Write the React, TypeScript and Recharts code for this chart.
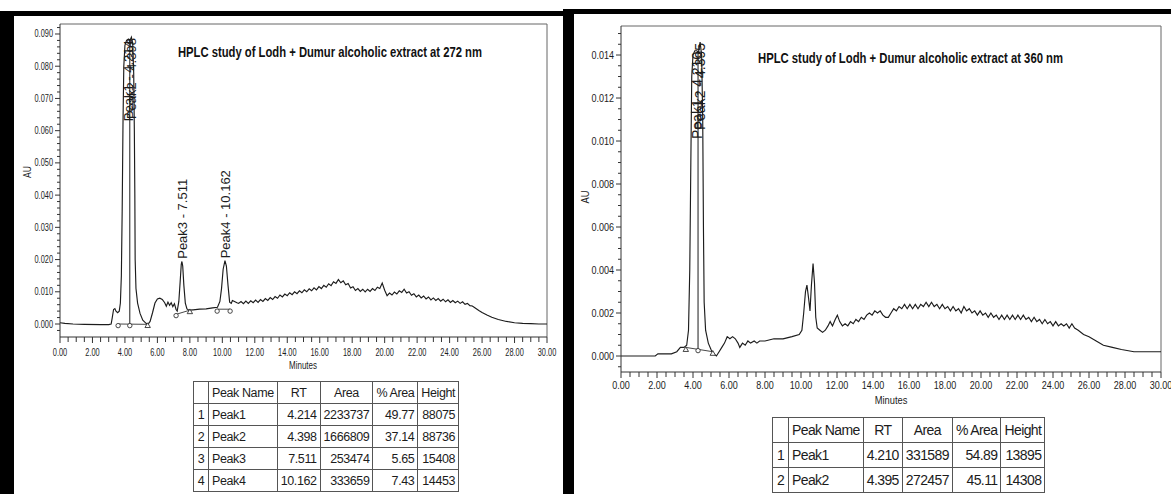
import React from 'react';
import { ComposedChart, Line, Scatter, XAxis, YAxis, ReferenceLine } from 'recharts';

// 272 nm run: [minutes, AU]
const trace272: [number, number][] = [
  [0, 0.0004], [0.3, 0.0002], [0.8, 0.0], [1.5, -0.0001], [2.5, -0.0002], [3.0, -0.0002],
  [3.15, 0.0], [3.22, 0.002], [3.3, 0.0045], [3.38, 0.0048], [3.45, 0.004], [3.55, 0.0035],
  [3.65, 0.004], [3.72, 0.0065], [3.78, 0.015], [3.83, 0.035], [3.88, 0.062], [3.93, 0.08],
  [4.0, 0.0865], [4.1, 0.088], [4.214, 0.0884], [4.3, 0.0878], [4.398, 0.089], [4.48, 0.087],
  [4.54, 0.078], [4.58, 0.06], [4.61, 0.04], [4.63, 0.02], [4.68, 0.011], [4.78, 0.0065],
  [4.93, 0.0033], [5.1, 0.0012], [5.3, 0.0002], [5.42, -0.0001], [5.55, 0.0008], [5.7, 0.0035],
  [5.85, 0.0065], [6.0, 0.0078], [6.15, 0.008], [6.3, 0.0076], [6.45, 0.0066], [6.55, 0.0055],
  [6.65, 0.0068], [6.75, 0.0058], [6.85, 0.0066], [6.95, 0.0054], [7.05, 0.0063], [7.15, 0.0045],
  [7.22, 0.004], [7.32, 0.007], [7.4, 0.013], [7.47, 0.0185], [7.51, 0.0194], [7.56, 0.018],
  [7.63, 0.012], [7.72, 0.0065], [7.82, 0.0047], [7.95, 0.0043], [8.2, 0.0044], [8.6, 0.0046],
  [9.0, 0.0047], [9.4, 0.005], [9.7, 0.0052], [9.85, 0.007], [9.95, 0.011], [10.05, 0.017],
  [10.162, 0.0197], [10.25, 0.018], [10.35, 0.012], [10.45, 0.0068], [10.55, 0.0064], [10.62, 0.0073],
  [10.75, 0.007], [10.9, 0.0066],
  [11.0, 0.0064], [11.15, 0.007], [11.3, 0.0063], [11.45, 0.0071], [11.6, 0.0064], [11.75, 0.0072],
  [11.9, 0.0066], [12.05, 0.0074], [12.2, 0.0067], [12.35, 0.0076], [12.5, 0.007], [12.65, 0.0079],
  [12.8, 0.0073], [12.95, 0.0082], [13.1, 0.0076], [13.25, 0.0085], [13.4, 0.008], [13.55, 0.009],
  [13.7, 0.0084], [13.85, 0.0093], [14.0, 0.0088], [14.15, 0.0097], [14.3, 0.0091], [14.45, 0.01],
  [14.6, 0.0094], [14.75, 0.0103], [14.9, 0.0097], [15.05, 0.0106], [15.2, 0.01], [15.35, 0.0109],
  [15.5, 0.0103], [15.65, 0.0112], [15.8, 0.0106], [15.95, 0.0116], [16.1, 0.011], [16.25, 0.012],
  [16.4, 0.0114], [16.55, 0.0125], [16.7, 0.0119], [16.85, 0.0131], [17.0, 0.0126], [17.15, 0.0138],
  [17.3, 0.0128], [17.45, 0.0134], [17.6, 0.0122], [17.75, 0.0126], [17.9, 0.0112], [18.05, 0.0116],
  [18.2, 0.0104], [18.35, 0.011], [18.5, 0.0101], [18.65, 0.0108], [18.8, 0.01], [18.95, 0.0108],
  [19.1, 0.0101], [19.25, 0.011], [19.4, 0.0104], [19.55, 0.0114], [19.7, 0.011], [19.85, 0.0127],
  [20.0, 0.0105], [20.15, 0.0088], [20.3, 0.0096], [20.45, 0.009], [20.6, 0.0099], [20.75, 0.0093],
  [20.9, 0.0103], [21.05, 0.0098], [21.2, 0.0108], [21.35, 0.0096], [21.5, 0.01], [21.65, 0.0089],
  [21.8, 0.0094], [21.95, 0.0084], [22.1, 0.009], [22.25, 0.0081], [22.4, 0.0087], [22.55, 0.0078],
  [22.7, 0.0084], [22.85, 0.0075], [23.0, 0.0081], [23.15, 0.0073], [23.3, 0.0079], [23.45, 0.0071],
  [23.6, 0.0077], [23.75, 0.0069], [23.9, 0.0075], [24.05, 0.0067], [24.2, 0.0073], [24.35, 0.0066],
  [24.5, 0.0071], [24.65, 0.0064], [24.8, 0.0069], [24.95, 0.0061], [25.1, 0.0064], [25.25, 0.0057],
  [25.4, 0.0056], [25.6, 0.0049], [25.8, 0.0042], [26.0, 0.0036], [26.3, 0.0028], [26.6, 0.0021],
  [27.0, 0.0014], [27.5, 0.0008], [28.0, 0.0004], [28.5, 0.0002], [29.0, 0.0001], [29.5, 0.0], [30.0, 0.0],
];

const peakNames272 = ['Peak1', 'Peak2', 'Peak3', 'Peak4'];
const peakRT272 = [4.214, 4.398, 7.511, 10.162];
const peakArea272 = [2233737, 1666809, 253474, 333659];
const peakPctArea272 = [49.77, 37.14, 5.65, 7.43];
const peakHeight272 = [88075, 88736, 15408, 14453];
const peakBase272 = [0.0003, 0.0003, 0.0039, 0.005];
const markT272 = [3.58, 4.3, 5.4, 7.15, 8.0, 9.68, 10.48];
const markV272 = [-0.0005, -0.0005, -0.0005, 0.0026, 0.0038, 0.004, 0.004];
const markKind272 = ['o', 'o', 't', 'o', 't', 'o', 'o'];
const baseSeg272: [number, number, number, number][] = [
  [3.58, 0.0, 5.4, -0.0001],
  [7.15, 0.003, 8.0, 0.0043],
  [9.68, 0.0046, 10.48, 0.0046],
];
const drop272: [number, number, number] = [4.3, 0.0, 0.0884];

// 360 nm run: [minutes, AU]
const trace360: [number, number][] = [
  [0, 0.0], [1.0, 0.0], [1.9, 0.0], [2.05, 0.0001], [2.8, 0.0001], [3.1, 0.0002], [3.3, 0.0004],
  [3.5, 0.0004], [3.65, 0.0005], [3.75, 0.0012], [3.82, 0.004], [3.88, 0.009], [3.93, 0.013],
  [4.0, 0.014], [4.1, 0.0142], [4.21, 0.0142], [4.3, 0.0141], [4.395, 0.0146], [4.48, 0.014],
  [4.54, 0.011], [4.58, 0.006], [4.62, 0.0025], [4.7, 0.0012], [4.85, 0.0006], [5.0, 0.0003],
  [5.15, 0.0001], [5.3, 0.0], [5.45, 0.0002], [5.6, 0.0004], [5.75, 0.0006], [5.9, 0.0009],
  [6.05, 0.0008], [6.2, 0.0009], [6.35, 0.0008], [6.5, 0.0006], [6.6, 0.0004], [6.75, 0.0006],
  [6.9, 0.0005], [7.05, 0.0007], [7.2, 0.0006], [7.4, 0.0007], [7.55, 0.0006], [7.7, 0.0007],
  [8.0, 0.0007], [8.5, 0.0008], [9.0, 0.0008], [9.5, 0.0009], [9.9, 0.001], [10.05, 0.0012],
  [10.15, 0.002], [10.25, 0.003], [10.33, 0.0033], [10.42, 0.0027], [10.5, 0.0021], [10.58, 0.0033],
  [10.67, 0.0043], [10.75, 0.0034], [10.82, 0.0018], [10.9, 0.0013], [11.05, 0.0012], [11.2, 0.0011],
  [11.35, 0.0012], [11.5, 0.0014], [11.62, 0.0016], [11.75, 0.0014], [11.9, 0.0017], [12.02, 0.0019],
  [12.15, 0.0016], [12.3, 0.0014], [12.45, 0.0015], [12.6, 0.0014], [12.75, 0.0016], [12.9, 0.0015],
  [13.05, 0.0017], [13.2, 0.0016], [13.35, 0.0018], [13.5, 0.0017], [13.65, 0.0019], [13.8, 0.002],
  [13.95, 0.0019], [14.1, 0.0021], [14.25, 0.002], [14.4, 0.0021], [14.55, 0.0019], [14.7, 0.0018],
  [14.85, 0.0018],
  [15.0, 0.002], [15.15, 0.0022], [15.3, 0.0021], [15.45, 0.0023], [15.6, 0.0022], [15.75, 0.0024],
  [15.9, 0.0022], [16.05, 0.0024], [16.2, 0.0022], [16.35, 0.0024], [16.5, 0.0022], [16.65, 0.0024],
  [16.8, 0.0023], [16.95, 0.0025], [17.1, 0.0023], [17.25, 0.0025], [17.4, 0.0023], [17.55, 0.0024],
  [17.7, 0.0022], [17.85, 0.0024], [18.0, 0.0022], [18.15, 0.0023], [18.3, 0.0021], [18.45, 0.0023],
  [18.6, 0.0021], [18.75, 0.0022], [18.9, 0.002], [19.05, 0.0023], [19.2, 0.0021], [19.35, 0.0022],
  [19.5, 0.002], [19.65, 0.0021], [19.8, 0.0019], [19.95, 0.0021], [20.1, 0.0019], [20.25, 0.002],
  [20.4, 0.0018], [20.55, 0.002], [20.7, 0.0018], [20.85, 0.0019], [21.0, 0.0017], [21.15, 0.0019],
  [21.3, 0.0017], [21.45, 0.0019], [21.6, 0.0017], [21.75, 0.0019], [21.9, 0.0017], [22.05, 0.0019],
  [22.2, 0.0017], [22.35, 0.0019], [22.5, 0.0017], [22.65, 0.0018], [22.8, 0.0016], [22.95, 0.0018],
  [23.1, 0.0016], [23.25, 0.0017], [23.4, 0.0015], [23.55, 0.0017], [23.7, 0.0015], [23.85, 0.0016],
  [24.0, 0.0014], [24.15, 0.0016], [24.3, 0.0014], [24.45, 0.0015], [24.6, 0.0014], [24.75, 0.0015],
  [24.9, 0.0013], [25.05, 0.0015], [25.2, 0.0013], [25.4, 0.0012], [25.7, 0.001], [26.0, 0.0009],
  [26.4, 0.0007], [26.8, 0.0005], [27.3, 0.0004], [27.8, 0.0003], [28.5, 0.0002], [29.2, 0.0002], [30.0, 0.0002],
];

const peakNames360 = ['Peak1', 'Peak2'];
const peakRT360 = [4.21, 4.395];
const peakArea360 = [331589, 272457];
const peakPctArea360 = [54.89, 45.11];
const peakHeight360 = [13895, 14308];
const peakBase360 = [0.0003, 0.0003];
const markT360 = [3.6, 4.28, 5.1];
const markV360 = [0.0003, 0.00025, 0.00012];
const markKind360 = ['t', 'o', 't'];
const baseSeg360: [number, number, number, number][] = [[3.6, 0.0004, 5.1, 0.0002]];
const drop360: [number, number, number] = [4.28, 0.0003, 0.0142];

const FONT = "'Liberation Sans', Arial, sans-serif";
const INK = '#1c1c1c';
const AXIS = '#333';
const FRAME = '#666';

const steps = (from: number, to: number, step: number) => {
  const out: number[] = [];
  for (let k = Math.round(from / step); k * step <= to + 1e-9; k++) out.push(Math.round(k * step * 1e6) / 1e6);
  return out;
};
const isMult = (v: number, step: number) => Math.abs(v / step - Math.round(v / step)) < 1e-6;

const xTicks = steps(0, 30, 0.5);
const yTicks272 = steps(-0.002, 0.092, 0.002);
const yTicks360 = steps(-0.0005, 0.015, 0.0005);

function Chromatogram(p: any) {
  const data = p.trace.map(([t, v]: [number, number]) => ({ t, v }));
  const labels = p.names.map((n: string, i: number) => ({
    t: p.rt[i],
    v: p.base[i] + p.heights[i] / 1e6,
    label: `${n} - ${p.rt[i].toFixed(3)}`,
  }));
  const marks = p.markT.map((t: number, i: number) => ({ t, v: p.markV[i], kind: p.markKind[i] }));
  const yMax = p.yDomain[1];
  const plotTop = p.margin.top;

  const YTick = (s: any) => {
    const { x, y, payload } = s;
    const major = isMult(payload.value, p.yMajor);
    return (
      <g>
        <line x1={x - (major ? 5 : 3)} x2={x} y1={y} y2={y} stroke={AXIS} />
        {major && (
          <text
            transform={`translate(${x - 7},${y + p.tickFs * 0.35}) scale(${p.tickSx},1)`}
            textAnchor="end"
            fontSize={p.tickFs}
            fontFamily={FONT}
            fill={INK}
          >
            {payload.value.toFixed(3)}
          </text>
        )}
      </g>
    );
  };

  const XTick = (s: any) => {
    const { x, y, payload } = s;
    const major = isMult(payload.value, 2);
    return (
      <g>
        <line x1={x} x2={x} y1={y} y2={y + (major ? 6 : 5)} stroke={AXIS} />
        {major && (
          <text
            transform={`translate(${x},${y + p.xLabelDy}) scale(${p.tickSx},1)`}
            textAnchor="middle"
            fontSize={p.tickFs}
            fontFamily={FONT}
            fill={INK}
          >
            {payload.value.toFixed(2)}
          </text>
        )}
      </g>
    );
  };

  const MarkShape = (s: any) => {
    const { cx, cy, payload } = s;
    if (payload.kind === 't') {
      return (
        <path
          d={`M${cx},${cy - 2.8} L${cx + 2.7},${cy + 1.9} L${cx - 2.7},${cy + 1.9} Z`}
          fill="#fff"
          stroke={AXIS}
          strokeWidth={0.9}
        />
      );
    }
    return <circle cx={cx} cy={cy} r={2.2} fill="#fff" stroke={AXIS} strokeWidth={0.9} />;
  };

  const LabelShape = (s: any) => {
    const { cx, cy, payload } = s;
    const len = payload.label.length * p.labelFs * 0.48;
    const down = cy - len < plotTop;
    const ay = down ? cy + 1 : cy - 3;
    return (
      <text
        transform={`translate(${cx + p.labelFs * 0.36},${ay}) rotate(-90)`}
        textAnchor={down ? 'end' : 'start'}
        fontSize={p.labelFs}
        fontFamily={FONT}
        fill={INK}
      >
        {payload.label}
      </text>
    );
  };

  return (
    <ComposedChart width={p.w} height={p.h} margin={p.margin} data={data}>
      <XAxis
        dataKey="t"
        type="number"
        domain={[0, 30]}
        ticks={xTicks}
        interval={0}
        tickSize={0}
        tickMargin={0}
        tickLine={false}
        height={30}
        axisLine={{ stroke: AXIS }}
        tick={XTick}
        allowDataOverflow
      />
      <YAxis
        dataKey="v"
        type="number"
        domain={p.yDomain}
        ticks={p.yTicks}
        interval={0}
        tickSize={0}
        tickMargin={0}
        tickLine={false}
        width={p.yAxisW}
        axisLine={{ stroke: AXIS }}
        tick={YTick}
        allowDataOverflow
      />
      <ReferenceLine y={yMax} stroke={FRAME} ifOverflow="visible" />
      <ReferenceLine x={30} stroke={FRAME} ifOverflow="visible" />
      {p.segs.map(([a, b, c, d]: number[], i: number) => (
        <ReferenceLine
          key={i}
          segment={[{ x: a, y: b }, { x: c, y: d }]}
          stroke={AXIS}
          strokeWidth={0.9}
          ifOverflow="visible"
        />
      ))}
      <ReferenceLine
        segment={[{ x: p.drop[0], y: p.drop[1] }, { x: p.drop[0], y: p.drop[2] }]}
        stroke={INK}
        ifOverflow="visible"
      />
      <Line dataKey="v" type="linear" stroke={INK} strokeWidth={1.15} dot={false} isAnimationActive={false} />
      <Scatter data={marks} dataKey="v" shape={MarkShape} isAnimationActive={false} />
      <Scatter data={labels} dataKey="v" shape={LabelShape} isAnimationActive={false} />
    </ComposedChart>
  );
}

function PeakTable(p: any) {
  const cell = (align: string): React.CSSProperties => ({
    border: '1px solid #555',
    padding: '0 3px',
    textAlign: align as any,
    whiteSpace: 'nowrap',
    overflow: 'hidden',
  });
  return (
    <table
      style={{
        position: 'absolute',
        left: p.left,
        top: p.top,
        borderCollapse: 'collapse',
        tableLayout: 'fixed',
        fontFamily: FONT,
        fontSize: p.fs,
        color: INK,
        background: '#fff',
        letterSpacing: p.ls,
      }}
    >
      <colgroup>
        {p.colW.map((w: number, i: number) => (
          <col key={i} style={{ width: w }} />
        ))}
      </colgroup>
      <tbody>
        <tr style={{ height: p.rowH }}>
          <td style={cell('center')}></td>
          <td style={cell('left')}>Peak Name</td>
          <td style={cell('center')}>RT</td>
          <td style={cell('center')}>Area</td>
          <td style={cell('center')}>% Area</td>
          <td style={cell('center')}>Height</td>
        </tr>
        {p.names.map((n: string, i: number) => (
          <tr key={n} style={{ height: p.rowH }}>
            <td style={cell('center')}>{i + 1}</td>
            <td style={cell('left')}>{n}</td>
            <td style={cell('right')}>{p.rt[i].toFixed(3)}</td>
            <td style={cell('right')}>{p.area[i]}</td>
            <td style={cell('right')}>{p.pct[i].toFixed(2)}</td>
            <td style={cell('right')}>{p.heights[i]}</td>
          </tr>
        ))}
      </tbody>
    </table>
  );
}

const bar = (left: number, top: number, width: number, height: number): React.CSSProperties => ({
  position: 'absolute',
  left,
  top,
  width,
  height,
  background: '#000',
});

export default function App() {
  return (
    <div style={{ position: 'absolute', left: 0, top: 0, width: 1171, height: 494, background: '#fff', overflow: 'hidden' }}>
      <div style={{ position: 'absolute', left: 0, top: 0 }}>
        <Chromatogram
          trace={trace272}
          names={peakNames272}
          rt={peakRT272}
          heights={peakHeight272}
          base={peakBase272}
          markT={markT272}
          markV={markV272}
          markKind={markKind272}
          segs={baseSeg272}
          drop={drop272}
          w={570}
          h={380}
          margin={{ top: 24, right: 23, bottom: 13, left: 0 }}
          yAxisW={60}
          yDomain={[-0.00403, 0.0931]}
          yTicks={yTicks272}
          yMajor={0.01}
          tickFs={10}
          tickSx={0.74}
          xLabelDy={19}
          labelFs={13}
        />
      </div>
      <div style={{ position: 'absolute', left: 575, top: 0 }}>
        <Chromatogram
          trace={trace360}
          names={peakNames360}
          rt={peakRT360}
          heights={peakHeight360}
          base={peakBase360}
          markT={markT360}
          markV={markV360}
          markKind={markKind360}
          segs={baseSeg360}
          drop={drop360}
          w={596}
          h={420}
          margin={{ top: 26, right: 10, bottom: 18, left: 0 }}
          yAxisW={46}
          yDomain={[-0.000744, 0.01535]}
          yTicks={yTicks360}
          yMajor={0.002}
          tickFs={11}
          tickSx={0.82}
          xLabelDy={17}
          labelFs={14}
        />
      </div>

      <svg
        width={1171}
        height={494}
        style={{ position: 'absolute', left: 0, top: 0, pointerEvents: 'none' }}
      >
        <text x={178} y={57} fontSize={14} fontWeight="bold" fontFamily={FONT} fill="#111" textLength={304} lengthAdjust="spacingAndGlyphs">
          HPLC study of Lodh + Dumur alcoholic extract at 272 nm
        </text>
        <text x={758} y={63} fontSize={14} fontWeight="bold" fontFamily={FONT} fill="#111" textLength={305} lengthAdjust="spacingAndGlyphs">
          HPLC study of Lodh + Dumur alcoholic extract at 360 nm
        </text>
        <text transform="translate(31,172) rotate(-90) scale(0.85,1)" textAnchor="middle" fontSize={10} fontFamily={FONT} fill={INK}>
          AU
        </text>
        <text transform="translate(589,197) rotate(-90) scale(0.85,1)" textAnchor="middle" fontSize={11} fontFamily={FONT} fill={INK}>
          AU
        </text>
        <text transform="translate(303,369) scale(0.8,1)" textAnchor="middle" fontSize={10} fontFamily={FONT} fill={INK}>
          Minutes
        </text>
        <text transform="translate(891,404) scale(0.85,1)" textAnchor="middle" fontSize={11} fontFamily={FONT} fill={INK}>
          Minutes
        </text>
      </svg>

      <PeakTable
        left={193}
        top={381}
        names={peakNames272}
        rt={peakRT272}
        area={peakArea272}
        pct={peakPctArea272}
        heights={peakHeight272}
        colW={[15, 59, 37, 48, 40, 36]}
        rowH={22}
        fs={12.5}
        ls={-0.4}
      />
      <PeakTable
        left={772}
        top={417}
        names={peakNames360}
        rt={peakRT360}
        area={peakArea360}
        pct={peakPctArea360}
        heights={peakHeight360}
        colW={[16, 65, 39, 43, 42, 40]}
        rowH={25}
        fs={14}
        ls={-0.6}
      />

      <div style={bar(0, 11, 14, 483)} />
      <div style={bar(0, 11, 568, 5)} />
      <div style={bar(563, 9, 11, 485)} />
      <div style={bar(568, 9, 603, 5)} />
    </div>
  );
}
